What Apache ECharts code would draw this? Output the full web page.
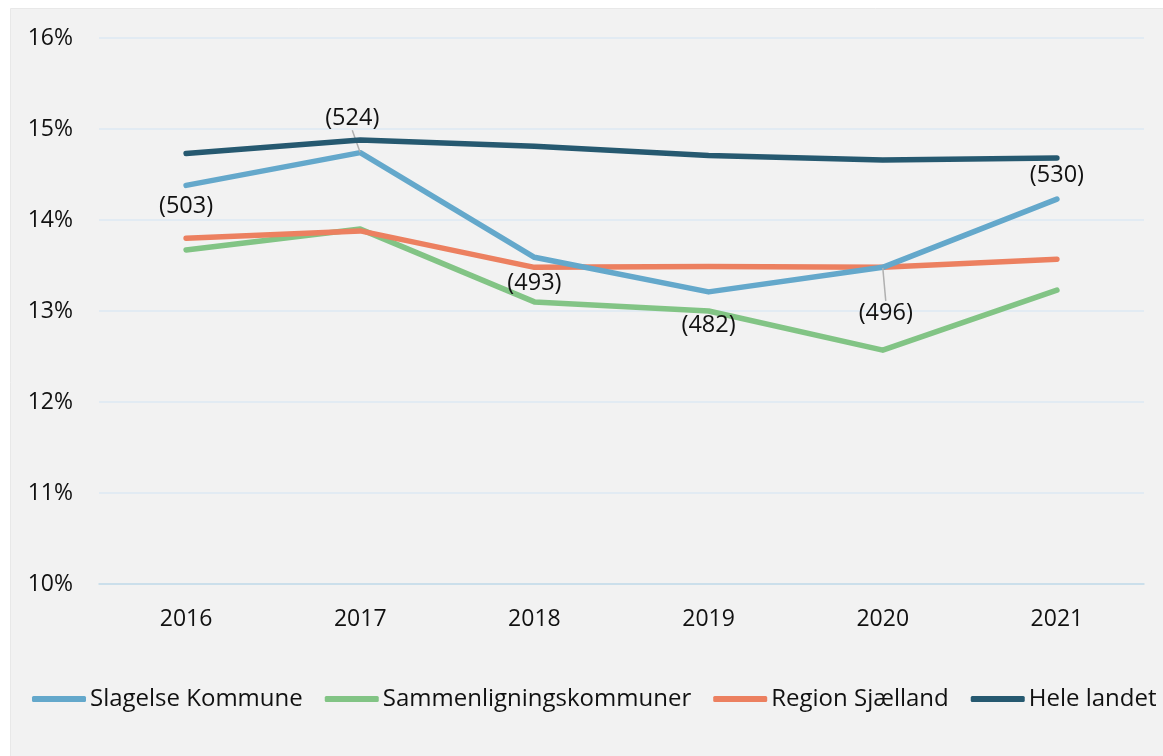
<!DOCTYPE html>
<html>
<head>
<meta charset="utf-8">
<script src="https://cdn.jsdelivr.net/npm/echarts@6/dist/echarts.min.js"></script>
<style>
  html, body { margin: 0; padding: 0; background: #fff; }
  #chart { width: 1163px; height: 756px; }
</style>
</head>
<body>
<div id="chart"></div>
<script>
var years = ['2016', '2017', '2018', '2019', '2020', '2021'];
var slagelse = [14.38, 14.74, 13.59, 13.21, 13.48, 14.23];
var sammenligning = [13.67, 13.90, 13.10, 13.00, 12.57, 13.23];
var region = [13.80, 13.88, 13.48, 13.49, 13.48, 13.57];
var heleLandet = [14.73, 14.88, 14.81, 14.71, 14.66, 14.68];
var slagelseCounts = [503, 524, 493, 482, 496, 530];
var yTicks = [10, 16, 1]; // min, max, interval

var chartDom = document.getElementById('chart');
var myChart = echarts.init(chartDom);
var font = '"Open Sans", "Noto Sans", sans-serif';

// where each count label sits relative to its point
var labelPos = [
  { position: 'bottom', distance: 8, offset: [-4, 0] },
  { position: 'top', distance: 5, offset: [0, 0] },
  { position: 'bottom', distance: 14, offset: [4, 0] },
  { position: 'bottom', distance: 21, offset: [-1, 0] },
  { position: 'bottom', distance: 5, offset: [0, 0] },
  { position: 'top', distance: 11, offset: [6, 0] }
];
// labels pulled away from the line get a leader line
var moved = { 1: [-8, -17], 4: [3, 28] };

var slagelseData = slagelse.map(function (v, i) {
  return {
    value: v,
    label: {
      show: true,
      position: labelPos[i].position,
      distance: labelPos[i].distance,
      offset: labelPos[i].offset,
      formatter: '(' + slagelseCounts[i] + ')'
    },
    labelLine: { show: !!moved[i] }
  };
});

function lineSeries(name, data, color, z) {
  return {
    name: name,
    type: 'line',
    data: data,
    z: z,
    symbol: 'circle',
    symbolSize: 1,
    itemStyle: { color: color },
    lineStyle: { color: color, width: 5.5, cap: 'round', join: 'round' },
    emphasis: { disabled: true }
  };
}

var sSlagelse = lineSeries('Slagelse Kommune', slagelseData, '#64a8cb', 4);
sSlagelse.label = { color: '#111', fontSize: 23.5, fontFamily: font };
sSlagelse.labelLine = { show: true, lineStyle: { color: '#b0b0b0', width: 1.5 } };
sSlagelse.labelLayout = function (params) {
  var d = moved[params.dataIndex];
  if (d) return { dx: d[0], dy: d[1] };
  return {};
};

var option = {
  backgroundColor: '#fff',
  animation: false,
  graphic: [{
    type: 'rect',
    left: 10, top: 8,
    shape: { width: 1153, height: 748 },
    style: { fill: '#f2f2f2', stroke: '#e8e8e8', lineWidth: 1 },
    z: -10
  }],
  grid: { left: 99, right: 19, top: 38, bottom: 172 },
  xAxis: {
    type: 'category',
    data: years,
    axisLine: { show: true, lineStyle: { color: '#c4dbe9', width: 1.5 } },
    axisTick: { show: false },
    axisLabel: { color: '#111', fontSize: 23, fontFamily: font, margin: 24 }
  },
  yAxis: {
    type: 'value',
    min: yTicks[0], max: yTicks[1], interval: yTicks[2],
    axisLine: { show: false },
    axisTick: { show: false },
    splitLine: { lineStyle: { color: '#dde9f3', width: 1.5 } },
    axisLabel: { color: '#111', fontSize: 23, fontFamily: font, margin: 26, formatter: '{value}%' }
  },
  legend: {
    left: 32, top: 687,
    width: 1131,
    padding: 0,
    icon: 'roundRect',
    itemWidth: 54, itemHeight: 6,
    itemGap: 22,
    textStyle: { color: '#111', fontSize: 24, fontFamily: font, padding: [0, 0, 0, -1] },
    data: ['Slagelse Kommune', 'Sammenligningskommuner', 'Region Sjælland', 'Hele landet']
  },
  series: [
    sSlagelse,
    lineSeries('Sammenligningskommuner', sammenligning, '#82c485', 2),
    lineSeries('Region Sjælland', region, '#ec8060', 3),
    lineSeries('Hele landet', heleLandet, '#265970', 5)
  ]
};

option && myChart.setOption(option);
</script>
</body>
</html>
